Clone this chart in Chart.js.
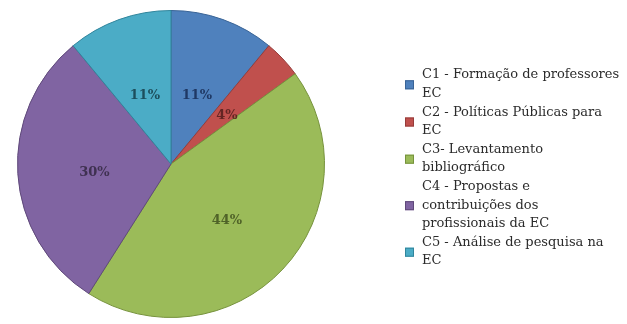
<!DOCTYPE html>
<html>
<head>
<meta charset="utf-8">
<script src="https://cdn.jsdelivr.net/npm/chart.js@4/dist/chart.umd.min.js"></script>
<style>
  html, body { margin: 0; padding: 0; background: #fff; }
  #wrap { width: 627px; height: 324px; }
</style>
</head>
<body>
<div id="wrap"><canvas id="pie-chart"></canvas></div>
<script>
// categories (already wrapped as in the legend)
const categorias = [
    ["C1 - Formação de professores", "EC"],
    ["C2 - Políticas Públicas para", "EC"],
    ["C3- Levantamento", "bibliográfico"],
    ["C4 - Propostas e", "contribuições dos", "profissionais da EC"],
    ["C5 - Análise de pesquisa na", "EC"]
]
const valores = [11, 4, 44, 30, 11]
const cores = ["#4f81bd", "#c0504d", "#9bbb59", "#8064a2", "#4bacc6"]
const coresBorda = ["#3a6496", "#963c3a", "#76923c", "#5f497a", "#31859c"]
const coresTexto = ["#1f3864", "#632523", "#4f6228", "#3f3151", "#1c4e5c"]

// percent labels inside each slice
const rotulos = {
    id: "rotulos",
    afterDatasetsDraw(chart) {
        let ctx = chart.ctx
        let meta = chart.getDatasetMeta(0)
        ctx.save()
        ctx.font = "bold 13px 'DejaVu Serif'"
        ctx.textAlign = "center"
        ctx.textBaseline = "middle"
        meta.data.forEach((arc, i) => {
            let p = arc.tooltipPosition()
            ctx.fillStyle = coresTexto[i]
            ctx.fillText(valores[i] + "%", p.x, p.y + 4)
        })
        ctx.restore()
    }
}

// legend drawn at the right, one square per category
const legenda = {
    id: "legenda",
    afterDraw(chart) {
        let ctx = chart.ctx
        let x = 405
        let y = 75
        let lh = 18.6
        ctx.save()
        ctx.font = "13px 'DejaVu Serif'"
        ctx.textBaseline = "middle"
        ctx.textAlign = "left"
        categorias.forEach((linhas, i) => {
            let meio = y + (linhas.length - 1) * lh / 2
            ctx.fillStyle = cores[i]
            ctx.fillRect(x, meio - 4, 9, 9)
            ctx.strokeStyle = coresBorda[i]
            ctx.lineWidth = 1
            ctx.strokeRect(x + 0.5, meio - 3.5, 8, 8)
            ctx.fillStyle = "#2b2b2b"
            for (let l of linhas) {
                ctx.fillText(l, x + 17, y)
                y += lh
            }
        })
        ctx.restore()
    }
}

let ctx = document.getElementById("pie-chart").getContext("2d")
let grafico = new Chart(ctx, {
    type: "pie",
    data: {
        labels: categorias,
        datasets: [{
            data: valores,
            backgroundColor: cores,
            borderColor: coresBorda,
            borderWidth: 1
        }]
    },
    options: {
        responsive: true,
        maintainAspectRatio: false,
        animation: false,
        layout: {
            padding: { left: 17, right: 302, top: 10, bottom: 6 }
        },
        plugins: {
            legend: { display: false },
            tooltip: { enabled: false }
        }
    },
    plugins: [rotulos, legenda]
})
</script>
</body>
</html>
